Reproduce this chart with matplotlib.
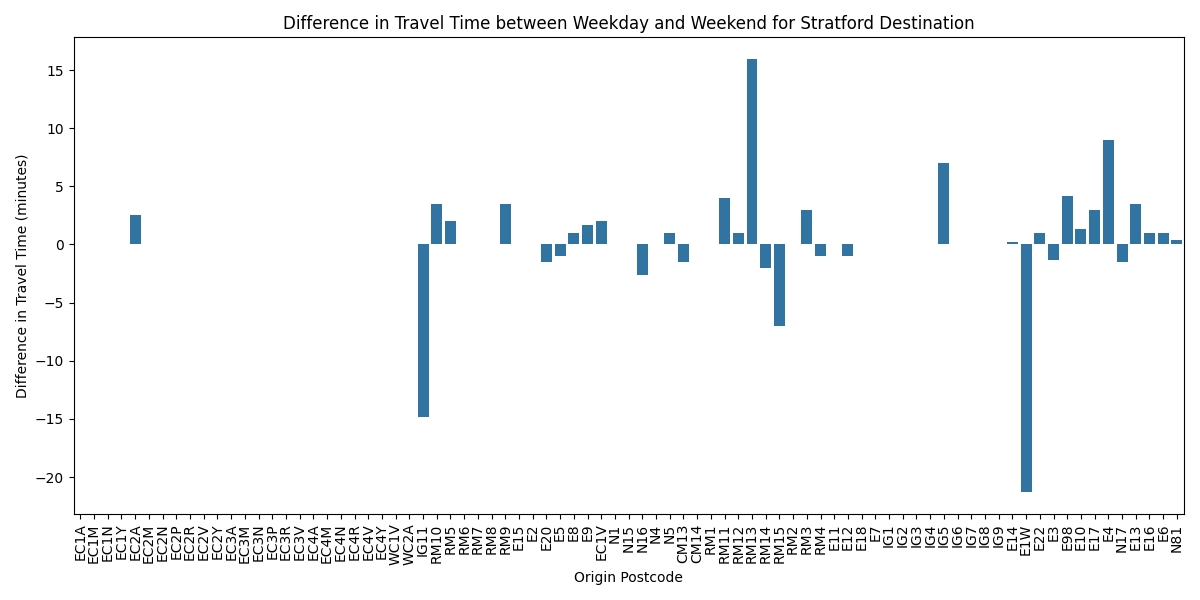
import matplotlib
matplotlib.use('Agg')
import matplotlib.pyplot as plt
import numpy as np

# Codici postali di origine (ordine come nel grafico originale)
postcodes = ['EC1A', 'EC1M', 'EC1N', 'EC1Y', 'EC2A', 'EC2M', 'EC2N', 'EC2P', 'EC2R', 'EC2V',
             'EC2Y', 'EC3A', 'EC3M', 'EC3N', 'EC3P', 'EC3R', 'EC3V', 'EC4A', 'EC4M', 'EC4N',
             'EC4R', 'EC4V', 'EC4Y', 'WC1V', 'WC2A', 'IG11', 'RM10', 'RM5', 'RM6', 'RM7',
             'RM8', 'RM9', 'E15', 'E2', 'E20', 'E5', 'E8', 'E9', 'EC1V', 'N1',
             'N15', 'N16', 'N4', 'N5', 'CM13', 'CM14', 'RM1', 'RM11', 'RM12', 'RM13',
             'RM14', 'RM15', 'RM2', 'RM3', 'RM4', 'E11', 'E12', 'E18', 'E7', 'IG1',
             'IG2', 'IG3', 'IG4', 'IG5', 'IG6', 'IG7', 'IG8', 'IG9', 'E14', 'E1W',
             'E22', 'E3', 'E98', 'E10', 'E17', 'E4', 'N17', 'E13', 'E16', 'E6', 'N81']

# Differenza weekday - weekend (minuti)
time_diff = [0, 0, 0, 0, 2.5, 0, 0, 0, 0, 0,
             0, 0, 0, 0, 0, 0, 0, 0, 0, 0,
             0, 0, 0, 0, 0, -14.8, 3.45, 2.05, 0, 0,
             0, 3.45, 0, 0, -1.5, -1.0, 0.95, 1.65, 2.0, 0,
             0, -2.65, 0, 0.95, -1.5, 0, 0, 4.0, 0.95, 15.95,
             -2.05, -7.05, 0, 3.0, -1.0, 0, -1.0, 0, 0, 0,
             0, 0, 0, 7.0, 0, 0, 0, 0, 0.2, -21.3,
             0.95, -1.3, 4.2, 1.3, 3.0, 9.0, -1.5, 3.5, 0.95, 0.95, 0.4]


def main():
    x = np.arange(len(postcodes))

    fig, ax = plt.subplots(figsize=(12, 6), dpi=100)
    ax.bar(x, time_diff, width=0.8, color='#3274a1')
    ax.set_xticks(x)
    ax.set_xticklabels(postcodes, rotation='vertical')
    ax.set_xlim(-0.5, len(postcodes) - 0.5)
    ax.set_xlabel('Origin Postcode')
    ax.set_ylabel('Difference in Travel Time (minutes)')
    ax.set_title('Difference in Travel Time between Weekday and Weekend for Stratford Destination')
    fig.tight_layout()
    fig.savefig('out.png')


if __name__ == '__main__':
    main()
